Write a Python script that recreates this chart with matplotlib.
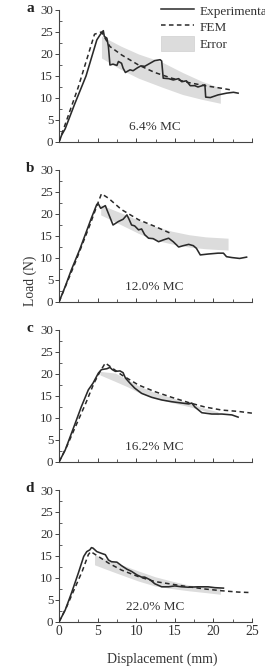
import matplotlib
matplotlib.use("Agg")
import matplotlib.pyplot as plt
from matplotlib.patches import Patch
from matplotlib.lines import Line2D

plt.rcParams['font.family'] = ['Liberation Serif', 'DejaVu Serif']

# ---- data ----
labels = ["a", "b", "c", "d"]
mc_labels = ["6.4% MC", "12.0% MC", "16.2% MC", "22.0% MC"]

exp_a_x = [0, 0.35, 0.8, 2.0, 3.5, 4.9, 5.3, 5.74, 5.87, 6.2, 6.4, 6.6, 7.0, 7.5, 7.7, 8.1, 8.3, 8.6,
           9.2, 9.6, 10.1, 10.6, 11.1, 11.8, 12.4, 13.1, 13.3, 13.5, 14.2, 14.8, 15.5, 15.9, 16.5,
           17.0, 17.6, 18.0, 18.9, 19.0, 19.6, 20.6, 21.7, 22.6, 23.2]
exp_a_y = [0, 1.6, 3.0, 8.5, 15.0, 23.2, 24.3, 25.3, 24.0, 23.6, 21.7, 17.5, 17.7, 17.4, 18.3, 17.9,
           16.8, 15.8, 16.4, 16.2, 16.8, 17.3, 17.2, 17.9, 18.5, 18.7, 18.4, 14.5, 14.4, 14.1, 14.4,
           13.7, 13.9, 12.8, 12.8, 12.5, 13.0, 10.2, 10.1, 10.7, 11.1, 11.3, 11.1]
fem_a_x = [0, 1.0, 2.5, 4.6, 5.5, 6.6, 8.1, 10.3, 12.4, 14.6, 16.8, 18.9, 21.1, 22.4]
fem_a_y = [0, 5.0, 12.5, 24.5, 25.0, 21.7, 19.8, 17.5, 15.8, 14.5, 13.5, 12.8, 12.2, 11.8]
err_a_x = [5.5, 8.0, 10.3, 13.3, 16.0, 18.5, 20.9]
err_a_lo = [19.1, 16.5, 14.5, 12.5, 10.8, 9.7, 8.8]
err_a_hi = [24.1, 21.8, 20.0, 18.2, 15.8, 13.8, 12.3]

exp_b_x = [0, 0.8, 1.6, 2.7, 3.8, 4.2, 4.9, 5.1, 5.4, 6.0, 6.2, 7.0, 7.7, 8.3, 8.8, 9.1, 9.4, 9.8,
           10.3, 10.7, 11.1, 11.6, 12.2, 12.9, 13.5, 14.2, 14.8, 15.5, 16.1, 16.8, 17.4, 17.8, 18.3,
           19.3, 20.6, 21.3, 21.7, 22.4, 23.4, 24.3]
exp_b_y = [0, 3.5, 7.3, 12.0, 17.2, 19.1, 22.2, 22.3, 21.3, 21.9, 21.0, 17.5, 18.3, 18.8, 19.8, 18.7,
           17.5, 17.3, 16.4, 16.6, 15.3, 14.5, 14.4, 13.7, 14.1, 14.5, 13.7, 12.5, 12.8, 13.1, 12.8,
           12.2, 10.7, 10.9, 11.1, 11.1, 10.3, 10.1, 9.9, 10.2]
fem_b_x = [0, 2.0, 4.0, 5.0, 5.5, 6.4, 8.1, 10.3, 12.4, 14.6]
fem_b_y = [0, 8.5, 17.5, 22.3, 24.6, 23.6, 21.0, 18.7, 17.2, 15.5]
err_b_x = [5.4, 8.1, 10.3, 12.4, 14.6, 16.8, 19.0, 21.9]
err_b_lo = [19.8, 17.5, 15.6, 14.1, 13.2, 12.5, 12.1, 11.8]
err_b_hi = [22.1, 20.2, 18.6, 17.2, 16.1, 15.3, 14.8, 14.5]

exp_c_x = [0, 0.8, 2.1, 2.9, 3.8, 4.4, 5.1, 5.5, 6.2, 6.6, 6.9, 7.3, 7.9, 8.3, 8.6, 9.2, 9.8, 10.7,
           12.0, 13.3, 14.6, 15.9, 16.8, 17.2, 17.6, 18.5, 19.8, 21.1, 22.4, 23.2]
exp_c_y = [0, 2.7, 8.8, 12.6, 16.4, 17.9, 20.2, 21.0, 21.2, 21.5, 21.0, 20.6, 20.7, 20.3, 19.1, 17.9,
           16.8, 15.6, 14.7, 14.1, 13.7, 13.4, 13.2, 13.4, 12.5, 11.2, 10.9, 10.9, 10.7, 10.2]
fem_c_x = [0, 1.0, 2.5, 3.5, 4.5, 5.3, 6.0, 8.1, 10.3, 12.4, 14.6, 16.8, 18.9, 21.1, 23.2, 25.0]
fem_c_y = [0, 3.5, 9.5, 13.5, 17.8, 20.5, 22.5, 19.8, 17.5, 16.0, 14.7, 13.5, 12.5, 11.8, 11.5, 11.1]
err_c_x = [5.3, 7.3, 9.0, 10.3, 12.4, 14.6, 16.8, 18.9, 20.6]
err_c_lo = [19.8, 18.3, 17.0, 15.8, 14.5, 13.5, 12.6, 11.6, 10.7]
err_c_hi = [20.6, 20.2, 18.6, 17.3, 15.8, 14.6, 13.4, 12.2, 11.4]

exp_d_x = [0, 0.8, 1.6, 2.5, 3.2, 3.6, 4.0, 4.2, 4.4, 4.9, 5.5, 6.0, 6.4, 6.8, 7.5, 8.1, 8.8, 9.4,
           10.1, 10.7, 11.1, 11.8, 12.4, 13.3, 14.2, 15.0, 15.9, 16.8, 18.0, 19.3, 20.2, 21.3]
exp_d_y = [0, 2.7, 6.5, 11.1, 14.9, 16.0, 16.4, 16.9, 16.8, 16.0, 15.6, 15.3, 14.1, 13.7, 13.6, 12.8,
           12.0, 11.5, 10.7, 10.2, 10.2, 9.6, 8.7, 8.0, 8.0, 8.2, 8.0, 7.9, 8.0, 8.0, 7.8, 7.7]
fem_d_x = [0, 1.0, 2.0, 3.0, 3.8, 4.1, 5.1, 6.4, 8.1, 10.3, 12.4, 14.6, 16.8, 18.9, 21.1, 23.2, 24.7]
fem_d_y = [0, 3.5, 7.5, 11.5, 15.3, 16.0, 14.9, 13.4, 11.8, 10.3, 9.2, 8.6, 8.0, 7.5, 7.1, 6.8, 6.7]
err_d_x = [4.6, 6.4, 8.1, 10.3, 12.4, 14.6, 16.8, 18.9, 20.9]
err_d_lo = [13.0, 11.8, 10.7, 9.3, 8.2, 7.6, 7.1, 6.7, 6.3]
err_d_hi = [15.3, 14.1, 13.0, 11.6, 10.3, 9.3, 8.4, 8.0, 7.7]

panels = [
    (exp_a_x, exp_a_y, fem_a_x, fem_a_y, err_a_x, err_a_lo, err_a_hi),
    (exp_b_x, exp_b_y, fem_b_x, fem_b_y, err_b_x, err_b_lo, err_b_hi),
    (exp_c_x, exp_c_y, fem_c_x, fem_c_y, err_c_x, err_c_lo, err_c_hi),
    (exp_d_x, exp_d_y, fem_d_x, fem_d_y, err_d_x, err_d_lo, err_d_hi),
]

W, H = 265, 672
fig = plt.figure(figsize=(W / 100, H / 100), dpi=100)

line_col = '#2a2a2a'
band_col = '#dcdcdc'
axis_col = '#444444'
text_col = '#333333'
tick_fs = 9.3

bottoms_px = [142, 302, 462, 622]
for i, (ex, ey, fx, fy, bx, blo, bhi) in enumerate(panels):
    ax = fig.add_axes([59 / W, 1 - bottoms_px[i] / H, 193 / W, 132 / H])
    ax.fill_between(bx, blo, bhi, color=band_col, lw=0, zorder=1)
    ax.plot(fx, fy, ls=(0, (3, 2.2)), color=line_col, lw=1.1, zorder=2)
    ax.plot(ex, ey, ls='-', color=line_col, lw=1.15, zorder=3)
    ax.set_xlim(0, 25)
    ax.set_ylim(0, 30)
    ax.set_xticks([0, 5, 10, 15, 20, 25])
    ax.set_xticks([2.5, 7.5, 12.5, 17.5, 22.5], minor=True)
    ax.set_yticks([0, 5, 10, 15, 20, 25, 30])
    ax.set_yticks([2.5, 7.5, 12.5, 17.5, 22.5, 27.5], minor=True)
    for s in ['top', 'right']:
        ax.spines[s].set_visible(False)
    for s in ['left', 'bottom']:
        ax.spines[s].set_color(axis_col)
        ax.spines[s].set_linewidth(0.8)
    ax.tick_params(axis='y', which='major', direction='out', length=3, width=0.7,
                   color=axis_col, labelsize=tick_fs, pad=1.2, labelcolor=text_col)
    ax.tick_params(axis='y', which='minor', direction='in', length=2, width=0.6, color=axis_col)
    ax.tick_params(axis='x', which='major', direction='in', length=3, width=0.7,
                   color=axis_col, labelsize=tick_fs + 0.5, pad=2, labelcolor=text_col)
    ax.tick_params(axis='x', which='minor', direction='in', length=2.5, width=0.6, color=axis_col)
    if i < 3:
        ax.tick_params(axis='x', labelbottom=False)
    ax.patch.set_alpha(0)
    ax.text(12.4, 3.4, mc_labels[i], ha='center', va='center', fontsize=9.5, color=text_col)
    fig.text(30 / W, 1 - (bottoms_px[i] - 133) / H, labels[i], fontsize=11,
             fontweight='bold', ha='center', va='center', color='#222222')

fig.text(30 / W, 1 - 281 / H, 'Load (N)', rotation=90, ha='center', va='center',
         fontsize=9.8, color=text_col)
fig.text(162 / W, 1 - 659 / H, 'Displacement (mm)', ha='center', va='center',
         fontsize=10, color=text_col)

handles = [Line2D([], [], color=line_col, lw=1.1),
           Line2D([], [], color=line_col, lw=1.1, ls=(0, (3, 2.2))),
           Patch(facecolor=band_col, edgecolor='#d0d0d0', lw=0.5)]
leg = fig.legend(handles, ['Experimental', 'FEM', 'Error'], loc='upper left',
                 bbox_to_anchor=(161 / W, 1 - 3 / H), frameon=False, fontsize=9.5,
                 handlelength=2.5, handleheight=1.3, handletextpad=0.45, labelspacing=0.15,
                 borderpad=0, borderaxespad=0)
for t in leg.get_texts():
    t.set_color(text_col)

fig.savefig('out.png', dpi=100)
